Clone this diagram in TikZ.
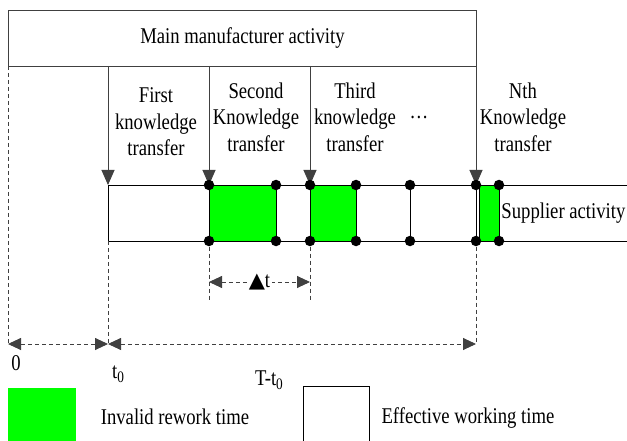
\documentclass[tikz,border=0pt]{standalone}
\usepackage{fontspec}
\setmainfont{Liberation Serif}[FakeStretch=0.83]
\newfontfamily\symfont{DejaVu Sans}
\usetikzlibrary{arrows.meta}
\definecolor{rework}{HTML}{00FF00}
\newcommand\mysub[1]{\raisebox{-0.35ex}{\fontsize{16}{16}\selectfont #1}}
\begin{document}
\begin{tikzpicture}[x=1pt,y=-1pt,line width=0.9pt,
  lbl/.style={font=\fontsize{22.5}{26.5}\selectfont,inner sep=0pt,align=center},
  kt/.style={draw=black!75,-{Triangle[length=15pt,width=13pt]}},
  dimline/.style={draw=black!75,dash pattern=on 4pt off 3pt,{Triangle[length=13pt,width=12pt]}-{Triangle[length=13pt,width=12pt]}},
  guide/.style={draw=black!75,dash pattern=on 4pt off 3pt},
  band/.style={draw=black},
  dot/.style={circle,fill=black,inner sep=0pt,minimum size=10.5pt},
  rw/.style={fill=rework,draw=black}]
\useasboundingbox (0,0) rectangle (627,441);

% main manufacturer box
\node[draw=black!75,minimum width=468pt,minimum height=56pt,inner sep=0pt,anchor=north west,
      font=\fontsize{22.5}{26.5}\selectfont] (main) at (8,10) {Main manufacturer activity};

% coordinates
\coordinate (k1t) at (108,66);  \coordinate (k1b) at (108,185);
\coordinate (k2t) at (209,66);  \coordinate (k2b) at (209,185);
\coordinate (k3t) at (310,66);  \coordinate (k3b) at (310,185);
\coordinate (knt) at (476,66);  \coordinate (knb) at (476,185);
\coordinate (bandL) at (108,241);
\coordinate (topR) at (627,185); \coordinate (botR) at (627,241);

% green rework blocks
\draw[rw] (209,185) rectangle (276,241);
\draw[rw] (310,185) rectangle (356,241);
\draw[rw] (479,185) rectangle (499,241);

% supplier band
\draw[band] (k1b) -- (topR);
\draw[band] (bandL) -- (botR);
\draw[band] (k1b) -- (bandL);
\draw[band] (410,185) -- (410,241);
\draw[band] (476,185) -- (476,241);

% knowledge transfer arrows
\draw[kt] (k1t) -- (k1b);
\draw[kt] (k2t) -- (k2b);
\draw[kt] (k3t) -- (k3b);
\draw[kt] (knt) -- (knb);

% dots
\foreach \x/\n in {209/a,276/b,310/c,356/d,410/e,476/f,499/g}{
  \node[dot] (dt\n) at (\x,185) {};
  \node[dot] (db\n) at (\x,241) {};
}

% labels
\node[lbl] (l1) at (156,122) {First\\knowledge\\transfer};
\node[lbl] (l2) at (256,117) {Second\\Knowledge\\transfer};
\node[lbl] (l3) at (355,117) {Third\\knowledge\\transfer};
\node[lbl,anchor=base] (ldots) at (419,119) {…};
\node[lbl] (ln) at (523,117) {Nth\\Knowledge\\transfer};
\node[lbl,anchor=west] (sup) at (501,213) {Supplier activity};

% dashed guides
\coordinate (g0t) at (8,66);   \coordinate (g0b) at (8,344);
\coordinate (g1b) at (108,344);
\coordinate (g2b) at (209,302); \coordinate (g3b) at (310,302);
\coordinate (gnb) at (476,344);
\draw[guide] (g0t) -- (g0b);
\draw[guide] (bandL) -- (g1b);
\draw[guide] (dba) -- (g2b);
\draw[guide] (dbc) -- (g3b);
\draw[guide] (dbf) -- (gnb);

% delta t dimension
\coordinate (dt1) at (209,282); \coordinate (dt2) at (310,282);
\draw[dimline] (dt1) -- node[fill=white,inner sep=1.5pt,font=\fontsize{22.5}{22.5}\selectfont] (dtl)
  {{\symfont\fontsize{21}{21}\selectfont ▲}t} (dt2);

% bottom dimension
\draw[dimline] (g0b) -- (g1b);
\draw[dimline] (g1b) -- (gnb);
\node[lbl] (z0) at (16,363) {0};
\node[lbl] (zt0) at (118,374) {t\mysub{0}};
\node[lbl] (zT) at (269,380) {T-t\mysub{0}};

% legend
\fill[rework] (8,388) rectangle (76,441);
\node[lbl] (leg1) at (175,417) {Invalid rework time};
\draw[draw=black] (303,441) -- (303,386) -- (369,386) -- (369,441);
\node[lbl] (leg2) at (468,418) {Effective working time};
\end{tikzpicture}
\end{document}
